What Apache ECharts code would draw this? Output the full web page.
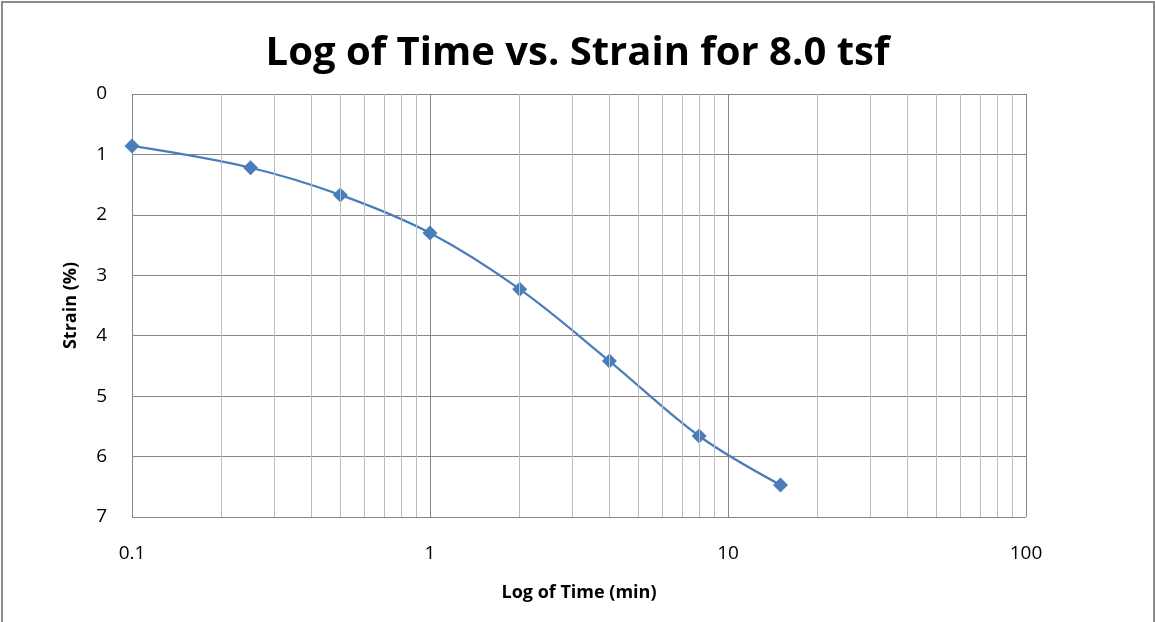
<!DOCTYPE html>
<html>
<head>
<meta charset="utf-8">
<script src="https://cdn.jsdelivr.net/npm/echarts@6/dist/echarts.min.js"></script>
<style>
html, body { margin: 0; padding: 0; background: #fff; overflow: hidden; }
#chart { position: absolute; left: 0; top: 0; width: 1155px; height: 622px; }
#frame { position: absolute; left: 1px; top: 1px; width: 1150px; height: 640px; border: 2px solid #8a8a8a; pointer-events: none; }
</style>
</head>
<body>
<div id="chart"></div>
<div id="frame"></div>
<script>
var timeMin = [0.1, 0.25, 0.5, 1, 2, 4, 8, 15];
var strainPct = [0.86, 1.22, 1.67, 2.30, 3.23, 4.42, 5.66, 6.47];
var minorTicks = [0.2, 0.3, 0.4, 0.5, 0.6, 0.7, 0.8, 0.9,
    2, 3, 4, 5, 6, 7, 8, 9,
    20, 30, 40, 50, 60, 70, 80, 90];

var myChart = echarts.init(document.getElementById("chart"));
var font = "'Open Sans', 'Liberation Sans', sans-serif";

var option = {
    animation: false,
    title: {
        text: 'Log of Time vs. Strain for 8.0 tsf',
        left: 'center',
        top: 29,
        textStyle: { fontFamily: font, fontSize: 40, fontWeight: 'bold', color: '#000' }
    },
    grid: { left: 132, right: 129, top: 94, bottom: 105 },
    xAxis: {
        type: 'log',
        logBase: 10,
        min: 0.1,
        max: 100,
        name: 'Log of Time (min)',
        nameLocation: 'middle',
        nameGap: 67,
        nameTextStyle: { fontFamily: font, fontSize: 18, fontWeight: 'bold', color: '#000' },
        axisLine: { show: false },
        axisTick: { show: false },
        axisLabel: { fontFamily: font, fontSize: 19, color: '#000', margin: 27 },
        splitLine: { show: true, lineStyle: { color: '#868686', width: 1 } }
    },
    yAxis: {
        type: 'value',
        inverse: true,
        min: 0,
        max: 7,
        interval: 1,
        name: 'Strain (%)',
        nameLocation: 'middle',
        nameGap: 52,
        nameTextStyle: { fontFamily: font, fontSize: 18, fontWeight: 'bold', color: '#000' },
        axisLine: { show: false },
        axisTick: { show: false },
        axisLabel: { fontFamily: font, fontSize: 19, color: '#000', margin: 25 },
        splitLine: { show: true, lineStyle: { color: '#868686', width: 1 } }
    },
    series: [{
        type: 'line',
        data: timeMin.map(function (t, i) { return [t, strainPct[i]]; }),
        smooth: 0.35,
        symbol: 'diamond',
        symbolSize: 15,
        itemStyle: { color: '#4a7ebb' },
        lineStyle: { color: '#4a7ebb', width: 2.25 },
        markLine: {
            silent: true,
            symbol: 'none',
            label: { show: false },
            lineStyle: { color: '#bdbdbd', type: 'solid', width: 1 },
            data: minorTicks.map(function (v) { return { xAxis: v }; })
        },
        z: 3
    }]
};
myChart.setOption(option);
window.addEventListener("resize", function () {
    myChart.resize();
});
</script>
</body>
</html>
